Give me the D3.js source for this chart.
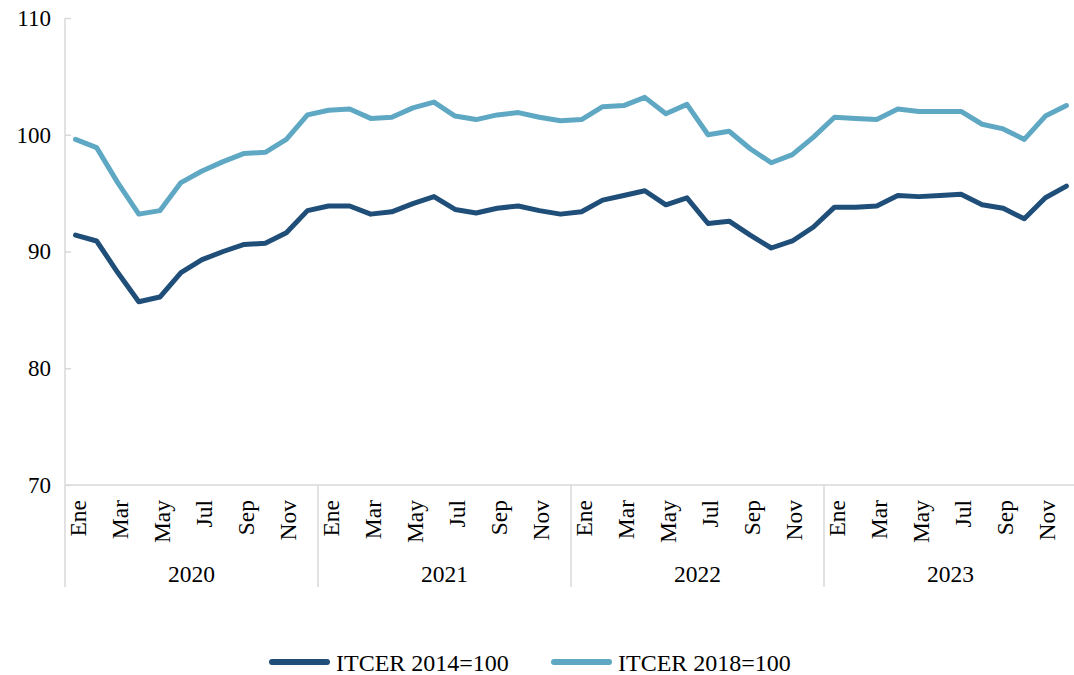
<!DOCTYPE html>
<html>
<head>
<meta charset="utf-8">
<script src="https://cdn.jsdelivr.net/npm/d3@7"></script>
<style>
  body { margin: 0; background: #fff; }
  svg { font-family: "Liberation Serif", "Times New Roman", serif; }
</style>
</head>
<body>
<svg id="chart" width="1074" height="675"></svg>
<script>
// data
const years = ['2020', '2021', '2022', '2023'];
const months = ['Ene', 'Feb', 'Mar', 'Abr', 'May', 'Jun', 'Jul', 'Ago', 'Sep', 'Oct', 'Nov', 'Dic'];
const yTicks = [70, 80, 90, 100, 110];
const itcer2014 = [
  91.4, 90.9, 88.2, 85.7, 86.1, 88.2, 89.3, 90.0, 90.6, 90.7, 91.6, 93.5,
  93.9, 93.9, 93.2, 93.4, 94.1, 94.7, 93.6, 93.3, 93.7, 93.9, 93.5, 93.2,
  93.4, 94.4, 94.8, 95.2, 94.0, 94.6, 92.4, 92.6, 91.4, 90.3, 90.9, 92.1,
  93.8, 93.8, 93.9, 94.8, 94.7, 94.8, 94.9, 94.0, 93.7, 92.8, 94.6, 95.6
];
const itcer2018 = [
  99.6, 98.9, 95.9, 93.2, 93.5, 95.9, 96.9, 97.7, 98.4, 98.5, 99.6, 101.7,
  102.1, 102.2, 101.4, 101.5, 102.3, 102.8, 101.6, 101.3, 101.7, 101.9, 101.5, 101.2,
  101.3, 102.4, 102.5, 103.2, 101.8, 102.6, 100.0, 100.3, 98.8, 97.6, 98.3, 99.8,
  101.5, 101.4, 101.3, 102.2, 102.0, 102.0, 102.0, 100.9, 100.5, 99.6, 101.6, 102.5
];
const seriesNames = ['ITCER 2014=100', 'ITCER 2018=100'];
const seriesColors = ['#1f4e79', '#5fa8c4'];

const margin = {left: 65, top: 18};
const plotRight = 1077;
const plotBottom = 485;
const catBottom = 587;
const fontSize = '23.5px';

const svg = d3.select('#chart');

// one entry per month
const periods = [];
years.forEach(y => months.forEach((m, i) => periods.push({key: y + '-' + i, year: y, month: m, idx: i})));

const x = d3.scaleBand()
  .domain(periods.map(d => d.key))
  .range([margin.left, plotRight]);
const y = d3.scaleLinear()
  .domain([70, 110])
  .range([plotBottom, margin.top]);

const gridColor = '#d9d9d9';

// Y axis
const yAxis = svg.append('g')
  .attr('transform', `translate(${margin.left},0)`)
  .call(d3.axisLeft(y).tickValues(yTicks).tickSize(-6).tickPadding(14).tickFormat(d3.format('d')));
yAxis.select('.domain').remove();
yAxis.selectAll('.tick line').attr('stroke', gridColor).attr('stroke-width', 1.5);
yAxis.selectAll('.tick text')
  .attr('fill', '#000')
  .style('font-size', '23px')
  .style('font-family', '"Liberation Serif", "Times New Roman", serif');

// vertical axis line, running down through the category area
svg.append('line')
  .attr('x1', margin.left).attr('x2', margin.left)
  .attr('y1', margin.top).attr('y2', catBottom)
  .attr('stroke', gridColor).attr('stroke-width', 1.5);

// horizontal axis line
svg.append('line')
  .attr('x1', margin.left).attr('x2', 1074)
  .attr('y1', plotBottom).attr('y2', plotBottom)
  .attr('stroke', gridColor).attr('stroke-width', 1.5);

// year separators
years.slice(1).forEach(yr => {
  const xs = x(yr + '-0');
  svg.append('line')
    .attr('x1', xs).attr('x2', xs)
    .attr('y1', plotBottom).attr('y2', catBottom)
    .attr('stroke', gridColor).attr('stroke-width', 1.5);
});

// month labels (every other month)
svg.append('g')
  .selectAll('text')
  .data(periods.filter(d => d.idx % 2 === 0))
  .join('text')
  .attr('transform', d => `translate(${x(d.key) + x.bandwidth() / 2 + 10},500) rotate(-90)`)
  .attr('text-anchor', 'end')
  .style('font-size', fontSize)
  .text(d => d.month);

// year labels
svg.append('g')
  .selectAll('text')
  .data(years)
  .join('text')
  .attr('x', d => x(d + '-0') + x.bandwidth() * 6)
  .attr('y', 582)
  .attr('text-anchor', 'middle')
  .style('font-size', fontSize)
  .text(d => d);

// lines
const line = d3.line()
  .x((d, i) => x(periods[i].key) + x.bandwidth() / 2)
  .y(d => y(d));

[itcer2014, itcer2018].forEach((s, i) => {
  svg.append('path')
    .datum(s)
    .attr('d', line)
    .attr('fill', 'none')
    .attr('stroke', seriesColors[i])
    .attr('stroke-width', 5)
    .attr('stroke-linejoin', 'round')
    .attr('stroke-linecap', 'round');
});

// legend
const legendX = [272, 554];
seriesNames.forEach((name, i) => {
  const g = svg.append('g').attr('transform', `translate(${legendX[i]},662)`);
  g.append('line')
    .attr('x1', 0).attr('x2', 55)
    .attr('y1', 0).attr('y2', 0)
    .attr('stroke', seriesColors[i])
    .attr('stroke-width', 6)
    .attr('stroke-linecap', 'round');
  g.append('text')
    .attr('x', 64)
    .attr('y', 8.5)
    .style('font-size', '24px')
    .text(name);
});
</script>
</body>
</html>
